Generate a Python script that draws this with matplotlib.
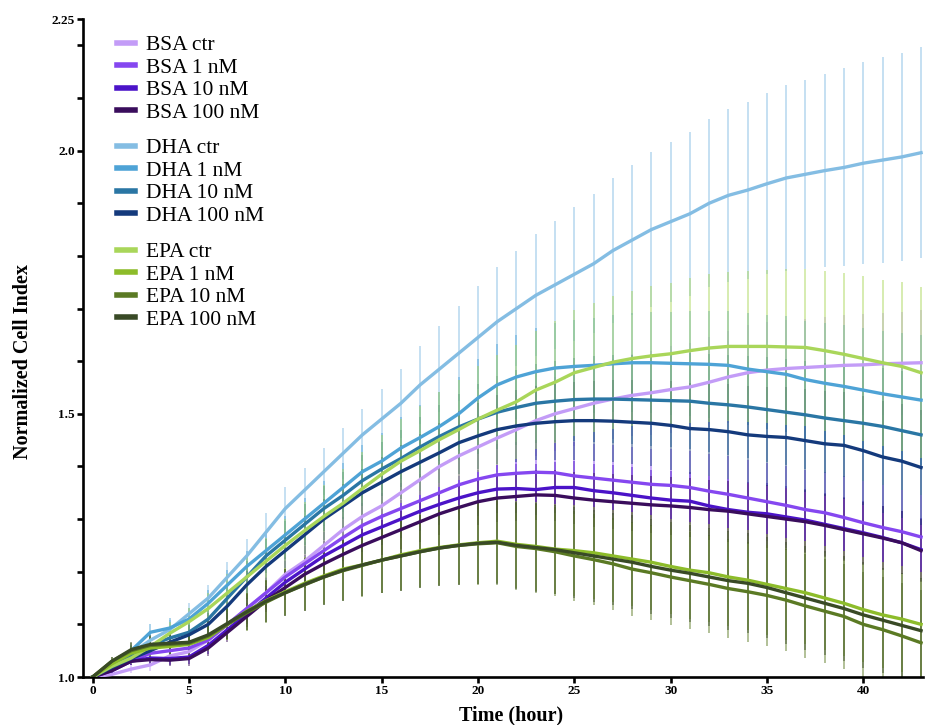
import numpy as np
import matplotlib
matplotlib.use("Agg")
import matplotlib.pyplot as plt
from matplotlib.ticker import MultipleLocator, FixedLocator

plt.rcParams['font.family'] = ['Liberation Serif', 'DejaVu Serif']

# time points (hour)
hours = list(range(0, 44))

# mean normalized cell index
bsa_ctr = [1.00, 1.005, 1.015, 1.023, 1.04, 1.048, 1.07, 1.10, 1.13, 1.16, 1.195, 1.22, 1.25, 1.28, 1.305,
           1.325, 1.35, 1.375, 1.40, 1.42, 1.437, 1.454, 1.47, 1.487, 1.50, 1.51, 1.52, 1.528, 1.535, 1.54,
           1.546, 1.551, 1.56, 1.57, 1.578, 1.583, 1.586, 1.588, 1.59, 1.592, 1.593, 1.595, 1.596, 1.597]
bsa_1 = [1.00, 1.015, 1.03, 1.045, 1.05, 1.055, 1.07, 1.10, 1.13, 1.16, 1.19, 1.215, 1.24, 1.265, 1.288,
         1.305, 1.32, 1.335, 1.35, 1.365, 1.376, 1.384, 1.387, 1.389, 1.388, 1.382, 1.378, 1.374, 1.37, 1.366,
         1.364, 1.36, 1.353, 1.347, 1.34, 1.333, 1.326, 1.318, 1.312, 1.303, 1.293, 1.284, 1.276, 1.266]
bsa_10 = [1.00, 1.012, 1.03, 1.036, 1.035, 1.038, 1.06, 1.09, 1.12, 1.15, 1.18, 1.205, 1.23, 1.25, 1.27,
          1.285, 1.30, 1.315, 1.328, 1.34, 1.35, 1.357, 1.358, 1.356, 1.36, 1.36, 1.354, 1.35, 1.345, 1.34,
          1.336, 1.334, 1.325, 1.318, 1.313, 1.31, 1.304, 1.298, 1.29, 1.282, 1.274, 1.265, 1.255, 1.242]
bsa_100 = [1.00, 1.012, 1.03, 1.033, 1.032, 1.035, 1.055, 1.085, 1.115, 1.145, 1.17, 1.195, 1.215, 1.233, 1.25,
           1.265, 1.28, 1.295, 1.31, 1.322, 1.333, 1.34, 1.343, 1.346, 1.345, 1.34, 1.336, 1.333, 1.33, 1.327,
           1.325, 1.322, 1.318, 1.315, 1.31, 1.305, 1.30, 1.295, 1.288, 1.28, 1.272, 1.264, 1.255, 1.24]
dha_ctr = [1.00, 1.02, 1.045, 1.07, 1.09, 1.12, 1.15, 1.19, 1.23, 1.275, 1.32, 1.355, 1.39, 1.425, 1.46,
           1.49, 1.52, 1.555, 1.585, 1.615, 1.645, 1.675, 1.70, 1.725, 1.745, 1.765, 1.785, 1.81, 1.83, 1.85,
           1.865, 1.88, 1.90, 1.915, 1.925, 1.937, 1.948, 1.955, 1.962, 1.968, 1.976, 1.982, 1.988, 1.996]
dha_1 = [1.00, 1.025, 1.05, 1.085, 1.093, 1.11, 1.14, 1.175, 1.21, 1.24, 1.27, 1.30, 1.33, 1.36, 1.39,
         1.41, 1.435, 1.455, 1.476, 1.50, 1.53, 1.555, 1.57, 1.58, 1.587, 1.59, 1.592, 1.595, 1.597, 1.597,
         1.596, 1.595, 1.594, 1.592, 1.585, 1.58, 1.575, 1.565, 1.558, 1.552, 1.545, 1.538, 1.532, 1.526]
dha_10 = [1.00, 1.02, 1.04, 1.06, 1.074, 1.085, 1.11, 1.15, 1.19, 1.23, 1.26, 1.29, 1.32, 1.345, 1.373,
          1.395, 1.415, 1.437, 1.457, 1.475, 1.49, 1.503, 1.512, 1.52, 1.524, 1.527, 1.528, 1.528, 1.527, 1.526,
          1.525, 1.524, 1.52, 1.517, 1.513, 1.508, 1.503, 1.498, 1.492, 1.487, 1.482, 1.476, 1.468, 1.46]
dha_100 = [1.00, 1.018, 1.035, 1.05, 1.066, 1.08, 1.10, 1.135, 1.175, 1.21, 1.24, 1.27, 1.30, 1.325, 1.35,
           1.37, 1.39, 1.408, 1.426, 1.445, 1.458, 1.47, 1.477, 1.482, 1.485, 1.487, 1.487, 1.486, 1.484, 1.482,
           1.478, 1.472, 1.47, 1.466, 1.46, 1.457, 1.455, 1.449, 1.443, 1.44, 1.43, 1.418, 1.41, 1.398]
epa_ctr = [1.00, 1.02, 1.036, 1.058, 1.083, 1.105, 1.13, 1.16, 1.19, 1.22, 1.25, 1.278, 1.305, 1.33, 1.358,
           1.385, 1.41, 1.43, 1.451, 1.47, 1.49, 1.507, 1.523, 1.545, 1.56, 1.578, 1.588, 1.598, 1.605, 1.61,
           1.614, 1.62, 1.625, 1.628, 1.628, 1.628, 1.627, 1.626, 1.62, 1.613, 1.605, 1.597, 1.59, 1.578]
epa_1 = [1.00, 1.025, 1.045, 1.055, 1.058, 1.062, 1.075, 1.10, 1.125, 1.145, 1.162, 1.178, 1.192, 1.205, 1.213,
         1.222, 1.232, 1.24, 1.246, 1.251, 1.255, 1.258, 1.252, 1.248, 1.243, 1.24, 1.236, 1.23, 1.224, 1.218,
         1.21, 1.203, 1.198, 1.19, 1.184, 1.176, 1.168, 1.16, 1.15, 1.14, 1.128, 1.118, 1.11, 1.10]
epa_10 = [1.00, 1.03, 1.05, 1.06, 1.062, 1.064, 1.078, 1.10, 1.122, 1.142, 1.16, 1.175, 1.19, 1.202, 1.212,
          1.222, 1.23, 1.238, 1.245, 1.25, 1.253, 1.255, 1.248, 1.244, 1.238, 1.23, 1.223, 1.215, 1.205, 1.198,
          1.19, 1.183, 1.176, 1.168, 1.162, 1.155, 1.146, 1.135, 1.125, 1.115, 1.10, 1.09, 1.078, 1.065]
epa_100 = [1.00, 1.03, 1.052, 1.062, 1.064, 1.066, 1.08, 1.102, 1.124, 1.144, 1.16, 1.176, 1.19, 1.203, 1.213,
           1.222, 1.23, 1.238, 1.245, 1.25, 1.254, 1.256, 1.25, 1.246, 1.242, 1.236, 1.23, 1.224, 1.218, 1.21,
           1.203, 1.197, 1.19, 1.183, 1.178, 1.17, 1.16, 1.15, 1.14, 1.13, 1.118, 1.108, 1.098, 1.088]

# error bars (SD)
bsa_ctr_err = [0, .004, .008, .012, .015, .018, .021, .024, .027, .03, .033, .036, .039, .042, .045,
               .048, .051, .054, .057, .06, .062, .064, .066, .068, .07, .072, .074, .076, .078, .08,
               .082, .084, .086, .088, .09, .091, .092, .093, .094, .095, .096, .097, .098, .10]
bsa_1_err = [0, .004, .008, .012, .015, .018, .02, .022, .025, .028, .03, .033, .036, .039, .042,
             .045, .048, .05, .052, .054, .056, .058, .06, .062, .063, .064, .065, .066, .067, .068,
             .069, .07, .071, .072, .073, .074, .075, .076, .077, .078, .079, .08, .08, .08]
bsa_10_err = [0, .004, .007, .01, .012, .014, .016, .018, .02, .022, .024, .026, .028, .03, .032,
              .034, .036, .038, .04, .042, .044, .046, .047, .048, .049, .05, .051, .052, .053, .054,
              .055, .056, .057, .058, .058, .059, .059, .06, .06, .06, .06, .06, .06, .06]
bsa_100_err = [0, .004, .007, .01, .012, .014, .016, .018, .02, .022, .024, .026, .028, .03, .032,
               .034, .036, .038, .04, .042, .044, .046, .047, .048, .049, .05, .051, .052, .053, .054,
               .055, .056, .057, .058, .058, .059, .059, .06, .06, .06, .06, .06, .06, .06]
dha_ctr_err = [0, .005, .01, .015, .018, .02, .024, .028, .032, .036, .04, .042, .045, .048, .05,
               .058, .066, .074, .082, .09, .097, .104, .11, .116, .122, .127, .132, .137, .142, .147,
               .152, .156, .16, .164, .168, .172, .176, .18, .184, .188, .192, .195, .198, .20]
dha_1_err = [0, .005, .01, .015, .02, .022, .025, .028, .03, .033, .036, .04, .043, .046, .05,
             .054, .058, .062, .066, .07, .074, .077, .08, .083, .086, .088, .09, .092, .094, .096,
             .098, .10, .102, .104, .106, .108, .11, .112, .114, .116, .118, .12, .122, .124]
dha_10_err = [0, .005, .01, .013, .016, .02, .023, .026, .03, .033, .036, .039, .042, .045, .048,
              .051, .054, .057, .06, .063, .066, .069, .072, .075, .077, .079, .081, .083, .085, .087,
              .089, .091, .093, .095, .097, .099, .101, .103, .105, .107, .109, .111, .113, .115]
dha_100_err = [0, .005, .009, .012, .015, .018, .021, .024, .027, .03, .033, .036, .039, .042, .045,
               .048, .051, .054, .057, .06, .063, .066, .068, .07, .072, .074, .076, .078, .08, .082,
               .084, .086, .088, .09, .092, .094, .096, .098, .10, .102, .104, .106, .108, .11]
epa_ctr_err = [0, .006, .012, .018, .022, .026, .03, .035, .04, .045, .05, .055, .06, .065, .07,
               .075, .08, .085, .09, .095, .10, .104, .108, .112, .116, .12, .123, .126, .129, .132,
               .135, .138, .14, .142, .144, .146, .148, .15, .152, .154, .156, .158, .16, .162]
epa_1_err = [0, .008, .014, .018, .02, .022, .026, .03, .035, .04, .045, .05, .054, .058, .06,
             .063, .066, .069, .072, .075, .078, .08, .082, .084, .085, .086, .087, .088, .089, .09,
             .091, .092, .093, .094, .095, .096, .097, .098, .099, .10, .10, .10, .10, .10]
epa_10_err = [0, .008, .014, .018, .02, .022, .026, .03, .035, .04, .045, .05, .054, .058, .06,
              .063, .066, .069, .072, .075, .078, .08, .082, .084, .085, .086, .087, .088, .089, .09,
              .091, .092, .093, .094, .095, .096, .097, .098, .099, .10, .10, .10, .10, .10]
epa_100_err = [0, .008, .014, .018, .02, .022, .026, .03, .035, .04, .045, .05, .054, .058, .06,
               .063, .066, .069, .072, .075, .078, .08, .082, .084, .085, .086, .087, .088, .089, .09,
               .091, .092, .093, .094, .095, .096, .097, .098, .099, .10, .10, .10, .10, .10]

groups = [
    [("BSA ctr", bsa_ctr, bsa_ctr_err, "#c39cf7"),
     ("BSA 1 nM", bsa_1, bsa_1_err, "#8547f0"),
     ("BSA 10 nM", bsa_10, bsa_10_err, "#4b13c8"),
     ("BSA 100 nM", bsa_100, bsa_100_err, "#3a0d5c")],
    [("DHA ctr", dha_ctr, dha_ctr_err, "#84bde3"),
     ("DHA 1 nM", dha_1, dha_1_err, "#4ea3d6"),
     ("DHA 10 nM", dha_10, dha_10_err, "#2a76a4"),
     ("DHA 100 nM", dha_100, dha_100_err, "#143a7c")],
    [("EPA ctr", epa_ctr, epa_ctr_err, "#a9d65a"),
     ("EPA 1 nM", epa_1, epa_1_err, "#8dbc2a"),
     ("EPA 10 nM", epa_10, epa_10_err, "#5b7a24"),
     ("EPA 100 nM", epa_100, epa_100_err, "#394a26")],
]

fig = plt.figure(figsize=(9.25, 7.25), dpi=100)
ax = fig.add_axes([83/925, 48/725, 840/925, 658/725])

# error bars first, lines on top
for grp in groups:
    for name, y, e, c in grp:
        ax.errorbar(hours, y, yerr=e, fmt='none', ecolor=c, elinewidth=1.1,
                    alpha=0.6, capsize=0, zorder=1)

handles = []
for grp in groups:
    hs = []
    for name, y, e, c in grp:
        h, = ax.plot(hours, y, color=c, lw=2.4, label=name, zorder=3,
                     solid_joinstyle='round')
        hs.append(h)
    handles.append(hs)

ax.set_xlim(-0.5, 43.1)
ax.set_ylim(1.0, 2.25)
ax.xaxis.set_major_locator(MultipleLocator(5))
ax.yaxis.set_major_locator(FixedLocator([1.0, 1.5, 2.0, 2.25]))
ax.yaxis.set_minor_locator(FixedLocator([1.1, 1.2, 1.3, 1.4, 1.6, 1.7, 1.8, 1.9, 2.1, 2.2]))
ax.set_yticklabels(["1.0", "1.5", "2.0", "2.25"])

for s in ['top', 'right']:
    ax.spines[s].set_visible(False)
for s in ['left', 'bottom']:
    ax.spines[s].set_linewidth(1.9)
ax.tick_params(axis='both', which='both', direction='out', width=1.9, length=4, pad=2)
ax.tick_params(axis='x', which='minor', length=0)
for lbl in ax.get_xticklabels() + ax.get_yticklabels():
    lbl.set_fontweight('bold')
    lbl.set_fontsize(9.5)

ax.set_xlabel("Time (hour)", fontsize=14.5, fontweight='bold')
ax.set_ylabel("Normalized Cell Index", fontsize=14.5, fontweight='bold')
ax.xaxis.set_label_coords(0.51, -0.043)
ax.yaxis.set_label_coords(-0.06, 0.479)

# three legend blocks, one per fatty acid
tops = [35, 138, 242]
for hs, top in zip(handles, tops):
    leg = fig.legend(handles=hs, loc='upper left',
                     bbox_to_anchor=(117/925, 1 - top/725),
                     frameon=False, fontsize=15.5, handlelength=0.85,
                     handletextpad=0.5, labelspacing=0.12, borderpad=0,
                     borderaxespad=0)
    for ln in leg.get_lines():
        ln.set_linewidth(4)

fig.savefig("out.png", dpi=100)
